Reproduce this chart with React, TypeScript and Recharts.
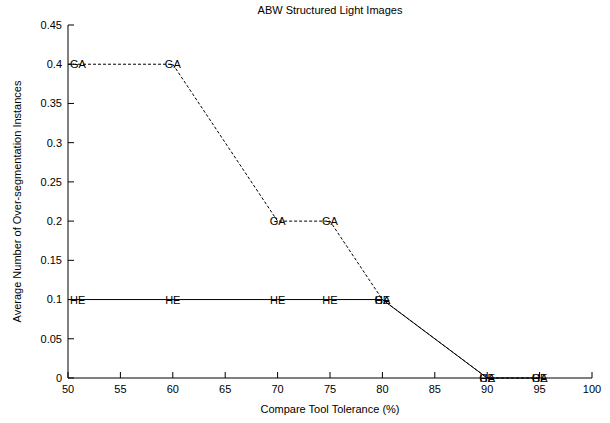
import React from "react"
import { LineChart, Line, XAxis, YAxis, Label } from "recharts"

const tolerance = [50, 60, 70, 75, 80, 90, 95]
const gaValues = [0.4, 0.4, 0.2, 0.2, 0.1, 0, 0]
const heValues = [0.1, 0.1, 0.1, 0.1, 0.1, 0, 0]
const xTicks = [50, 55, 60, 65, 70, 75, 80, 85, 90, 95, 100]
const yTicks = [0, 0.05, 0.1, 0.15, 0.2, 0.25, 0.3, 0.35, 0.4, 0.45]

const data = tolerance.map((t, i) => ({ t, ga: gaValues[i], he: heValues[i] }))

const font = "'Liberation Sans', Arial, Helvetica, sans-serif"

// point marker is the series name; the one sitting on the left border is pushed inside
function pointLabel(name: string) {
  return (props: any) => {
    const first = props.index === 0
    return (
      <text
        key={`${name}-${props.index}`}
        x={first ? props.cx + 2 : props.cx}
        y={props.cy}
        textAnchor={first ? "start" : "middle"}
        dominantBaseline="central"
        fontSize={11}
        fontFamily={font}
        fill="#000"
      >
        {name}
      </text>
    )
  }
}

const tickStyle = { fontSize: 11, fill: "#000", fontFamily: font }

export default function App() {
  return (
    <div style={{ position: "absolute", left: 0, top: 0, width: 610, height: 423, background: "#fff", fontFamily: font }}>
      <div
        style={{
          position: "absolute",
          left: 68,
          width: 524,
          top: 4,
          textAlign: "center",
          fontSize: 11,
          color: "#000",
        }}
      >
        ABW Structured Light Images
      </div>
      <LineChart width={610} height={423} data={data} margin={{ top: 25, right: 18, bottom: 0, left: 0 }}>
        <XAxis
          dataKey="t"
          type="number"
          domain={[50, 100]}
          ticks={xTicks}
          interval={0}
          height={45}
          tickSize={-6}
          tickMargin={13}
          stroke="#000"
          tick={tickStyle}
        >
          <Label
            value="Compare Tool Tolerance (%)"
            position="insideBottom"
            offset={10}
            style={{ fontSize: 11, fill: "#000", fontFamily: font }}
          />
        </XAxis>
        <XAxis
          xAxisId="top"
          dataKey="t"
          type="number"
          orientation="top"
          domain={[50, 100]}
          ticks={xTicks}
          interval={0}
          height={0}
          tickSize={-6}
          stroke="#000"
          tickFormatter={() => ""}
        />
        <YAxis
          type="number"
          domain={[0, 0.45]}
          ticks={yTicks}
          interval={0}
          width={68}
          tickSize={-6}
          tickMargin={12}
          stroke="#000"
          tick={tickStyle}
        >
          <Label
            value="Average Number of Over-segmentation Instances"
            angle={-90}
            position="insideLeft"
            offset={17}
            style={{ fontSize: 11, fill: "#000", fontFamily: font, textAnchor: "middle" }}
          />
        </YAxis>
        <YAxis
          yAxisId="right"
          type="number"
          orientation="right"
          domain={[0, 0.45]}
          ticks={yTicks}
          interval={0}
          width={0}
          tickSize={-6}
          stroke="#000"
          tickFormatter={() => ""}
        />
        <Line
          dataKey="ga"
          type="linear"
          stroke="#000"
          strokeWidth={1}
          strokeDasharray="3 2"
          dot={pointLabel("GA")}
          activeDot={false}
          isAnimationActive={false}
        />
        <Line
          dataKey="he"
          type="linear"
          stroke="#000"
          strokeWidth={1}
          dot={pointLabel("HE")}
          activeDot={false}
          isAnimationActive={false}
        />
      </LineChart>
    </div>
  )
}
